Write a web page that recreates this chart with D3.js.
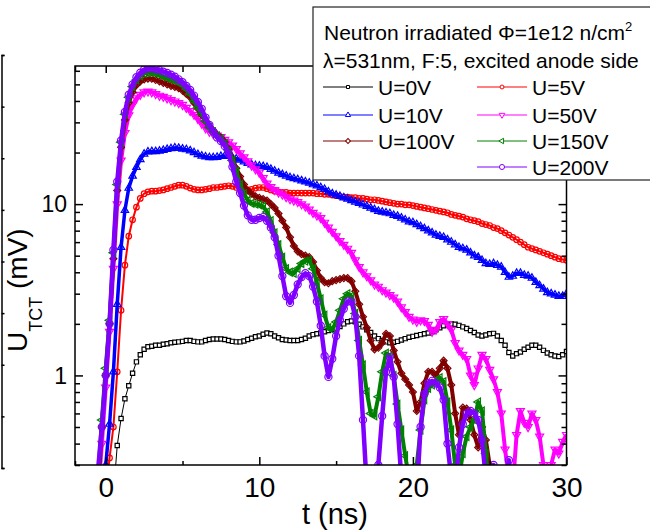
<!DOCTYPE html>
<html>
<head>
<meta charset="utf-8">
<script src="https://cdn.jsdelivr.net/npm/d3@7"></script>
<style>
body { margin: 0; background: #fff; }
svg { display: block; }
text { font-family: "Liberation Sans", Arial, sans-serif; fill: #000; }
</style>
</head>
<body>
<svg id="chart" width="650" height="531"></svg>
<script>
// sampling of the traces (ns)
const tStart = -1;
const tStep = 0.25;

// values in mV, one row per ns (t = -1 ... 30)
const u0V = [
	0.15, 0.15, 0.15, 0.15,
	0.15, 0.15, 0.2, 0.39,
	0.56, 0.73, 0.87, 1.03,
	1.2, 1.32, 1.42, 1.47,
	1.48, 1.5, 1.5, 1.52,
	1.53, 1.55, 1.56, 1.57,
	1.58, 1.6, 1.6, 1.58,
	1.57, 1.57, 1.6, 1.62,
	1.63, 1.63, 1.63, 1.62,
	1.6, 1.58, 1.57, 1.57,
	1.59, 1.62, 1.65, 1.68,
	1.7, 1.74, 1.77, 1.75,
	1.7, 1.66, 1.62, 1.61,
	1.6, 1.6, 1.6, 1.62,
	1.65, 1.7, 1.73, 1.75,
	1.77, 1.8, 1.83, 1.86,
	1.88, 1.93, 2.0, 2.06,
	2.08, 2.06, 1.99, 1.92,
	1.85, 1.78, 1.7, 1.64,
	1.6, 1.57, 1.55, 1.56,
	1.58, 1.61, 1.64, 1.67,
	1.69, 1.71, 1.73, 1.75,
	1.77, 1.8, 1.85, 1.9,
	1.95, 1.98, 2.0, 1.99,
	1.96, 1.92, 1.88, 1.83,
	1.78, 1.72, 1.7, 1.72,
	1.75, 1.76, 1.7, 1.6,
	1.5, 1.36, 1.3, 1.34,
	1.37, 1.42, 1.46, 1.5,
	1.5, 1.46, 1.4, 1.35,
	1.32, 1.3, 1.29, 1.32,
	1.38
];
const u5V = [
	0.15, 0.15, 0.15, 0.15,
	0.2, 0.33, 0.5, 1.05,
	2.4, 4.4, 6.5, 8.1,
	9.6, 10.8, 11.5, 11.8,
	11.9, 11.9, 12.0, 12.1,
	12.3, 12.5, 12.7, 12.9,
	12.9, 12.7, 12.4, 12.2,
	12.1, 12.1, 12.2, 12.3,
	12.5, 12.5, 12.6, 12.7,
	12.8, 12.7, 12.5, 12.3,
	12.1, 12.1, 12.2, 12.4,
	12.5, 12.5, 12.3, 12.1,
	11.9, 11.8, 11.7, 11.7,
	11.6, 11.6, 11.6, 11.6,
	11.6, 11.6, 11.6, 11.5,
	11.5, 11.4, 11.4, 11.3,
	11.2, 11.1, 11.0, 11.0,
	10.9, 10.9, 10.8, 10.8,
	10.7, 10.6, 10.6, 10.5,
	10.4, 10.3, 10.2, 10.1,
	10.0, 10.0, 9.9, 9.9,
	9.8, 9.7, 9.6, 9.5,
	9.4, 9.3, 9.2, 9.1,
	9.0, 8.9, 8.7, 8.6,
	8.5, 8.4, 8.2, 8.1,
	8.0, 7.9, 7.7, 7.6,
	7.5, 7.3, 7.2, 7.0,
	6.8, 6.6, 6.4, 6.2,
	6.0, 5.8, 5.6, 5.5,
	5.4, 5.3, 5.2, 5.1,
	5.0, 4.9, 4.8, 4.75,
	4.7
];
const u10V = [
	0.15, 0.15, 0.15, 0.18,
	0.3, 0.52, 1.05, 2.6,
	5.6, 9.2, 12.4, 14.6,
	16.4, 18.2, 19.6, 20.2,
	20.3, 20.3, 20.4, 20.6,
	20.9, 21.1, 21.3, 21.2,
	21.0, 20.8, 20.5, 20.0,
	19.5, 19.1, 18.9, 18.7,
	18.7, 18.8, 19.0, 19.1,
	19.0, 18.7, 18.4, 18.1,
	17.7, 17.3, 17.0, 16.8,
	16.7, 16.6, 16.4, 16.0,
	15.6, 15.2, 14.9, 14.6,
	14.3, 14.1, 13.9, 13.7,
	13.5, 13.3, 13.0, 12.8,
	12.5, 12.2, 11.8, 11.5,
	11.3, 11.1, 10.9, 10.7,
	10.5, 10.3, 10.1, 9.9,
	9.7, 9.5, 9.3, 9.1,
	9.0, 8.9, 8.8, 8.6,
	8.5, 8.3, 8.1, 7.9,
	7.8, 7.6, 7.4, 7.2,
	7.0, 6.8, 6.6, 6.5,
	6.4, 6.2, 6.0, 5.8,
	5.6, 5.5, 5.4, 5.2,
	5.0, 4.9, 4.7, 4.5,
	4.45, 4.5, 4.4, 4.3,
	4.0, 3.75, 3.8, 3.95,
	3.95, 3.85, 3.8, 3.7,
	3.5, 3.35, 3.2, 3.05,
	3.0, 2.95, 2.9, 2.9,
	3.0
];
const u50V = [
	0.15, 0.15, 0.2, 0.4,
	0.85, 1.8, 4.2, 10,
	18, 26, 33, 38,
	41.5, 43.5, 45, 45.5,
	45, 44, 43, 42.4,
	41.5, 40.5, 39.8, 39,
	38, 36.5, 35, 33.3,
	31.5, 29.5, 27.8, 26.5,
	25.7, 25.2, 24.7, 23.8,
	23, 22, 21, 19.8,
	18.8, 17.8, 16.8, 16,
	15.3, 14.2, 13.2, 12.6,
	12.1, 11.7, 11.4, 11.0,
	10.7, 10.5, 10.3, 10.0,
	9.7, 9.3, 8.9, 8.6,
	8.3, 7.8, 7.3, 6.9,
	6.5, 6.1, 5.8, 5.5,
	5.2, 4.7, 4.3, 4.0,
	3.8, 3.6, 3.4, 3.3,
	3.15, 3.05, 2.95, 2.85,
	2.7, 2.5, 2.35, 2.2,
	2.12, 2.06, 2.1, 2.08,
	1.98, 1.8, 1.85, 2.05,
	2.14, 2.0, 1.85, 1.55,
	1.4, 1.32, 1.25, 1.0,
	0.88, 1.1, 1.32, 1.25,
	1.08, 0.95, 0.8, 0.6,
	0.37, 0.25, 0.22, 0.45,
	0.62, 0.53, 0.5, 0.6,
	0.55, 0.44, 0.3, 0.22,
	0.3, 0.37, 0.35, 0.41,
	0.45
];
const u100V = [
	0.15, 0.15, 0.22, 0.5,
	1.0, 2.0, 4.8, 12,
	21.5, 31, 39, 45,
	49.5, 52, 53.5, 54,
	54, 53, 52, 51,
	50, 49, 48.3, 47.5,
	46, 44, 42, 39,
	36, 33, 30.5, 28.5,
	27, 25.5, 24.5, 23,
	21, 18.5, 16.2, 14.5,
	13, 12, 11.5, 11.1,
	10.9, 10.7, 10.5, 10.0,
	9.5, 8.8, 8.0, 7.3,
	6.4, 5.7, 5.3, 5.1,
	5.0, 4.9, 4.6, 4.1,
	3.7, 3.5, 3.45, 3.55,
	3.6, 3.65, 3.7, 3.7,
	3.55, 3.1, 2.6, 2.2,
	1.9, 1.6, 1.42, 1.45,
	1.55, 1.75, 1.7, 1.4,
	1.2, 1.03, 0.95, 0.88,
	0.8, 0.62, 0.7, 0.9,
	1.05, 1.05, 1.0, 1.1,
	1.22, 1.1, 0.88, 0.6,
	0.45, 0.65, 0.64, 0.55,
	0.45, 0.38, 0.5, 0.42,
	0.3, 0.2, 0.15, 0.15,
	0.15, 0.15, 0.15, 0.15,
	0.15, 0.15, 0.15, 0.15,
	0.15, 0.15, 0.15, 0.15,
	0.15, 0.15, 0.15, 0.15,
	0.15
];
const u150V = [
	0.15, 0.15, 0.25, 0.55,
	1.1, 2.1, 5.2, 13,
	23, 33.5, 42, 48.5,
	53, 56, 58, 58.5,
	58.5, 58, 57, 55.5,
	54.5, 53.5, 52.5, 51.5,
	49.5, 47, 44, 40,
	36.5, 33.5, 30.5, 28,
	26.5, 25, 24, 22.5,
	20.5, 18, 15.5, 13,
	11.5, 10.5, 10.1, 10.0,
	9.9, 9.7, 9.0, 8.0,
	6.8, 5.8, 4.9, 4.2,
	4.0, 3.95, 4.2, 4.5,
	4.65, 4.7, 4.2, 3.45,
	2.8, 2.25, 1.9, 1.85,
	2.05, 2.4, 2.8, 3.0,
	2.9, 2.3, 1.6, 1.15,
	0.8, 0.6, 0.58, 0.75,
	1.05, 1.35, 1.3, 1.0,
	0.68, 0.48, 0.34, 0.25,
	0.22, 0.3, 0.48, 0.72,
	0.84, 0.88, 0.92, 0.97,
	0.92, 0.7, 0.48, 0.3,
	0.25, 0.35, 0.44, 0.5,
	0.55, 0.7, 0.62, 0.35,
	0.2, 0.15, 0.15, 0.15,
	0.15, 0.15, 0.15, 0.15,
	0.15, 0.15, 0.15, 0.15,
	0.15, 0.15, 0.15, 0.15,
	0.15, 0.15, 0.15, 0.15,
	0.15
];
const u200V = [
	0.15, 0.15, 0.28, 0.5,
	1.0, 2.0, 5.4, 13.5,
	23.5, 34.5, 43.5, 50,
	55, 58.5, 61, 62,
	62, 61.5, 60.5, 59.3,
	58.3, 57, 55.5, 53.5,
	51.5, 49, 46.4, 43,
	39.5, 36, 32, 29,
	26.5, 24.5, 23.3, 21.8,
	19.8, 16.5, 13.5, 11.6,
	9.8, 8.6, 8.1, 8.1,
	8.3, 8.4, 8.0, 7.3,
	6.4, 5.0, 3.8, 2.9,
	2.65, 2.95, 3.4, 3.75,
	3.95, 3.8, 3.3, 2.7,
	1.95, 1.3, 0.98, 1.25,
	1.7, 2.1, 2.45, 2.7,
	2.7, 2.2, 1.3, 0.55,
	0.22, 0.15, 0.2, 0.3,
	0.58, 1.05, 1.28, 0.98,
	0.52, 0.25, 0.15, 0.12,
	0.15, 0.2, 0.5, 0.78,
	0.9, 0.93, 0.9, 0.85,
	0.72, 0.4, 0.25, 0.22,
	0.38, 0.52, 0.6, 0.62,
	0.6, 0.55, 0.42, 0.25,
	0.2, 0.3, 0.22, 0.15,
	0.15, 0.32, 0.2, 0.15,
	0.15, 0.15, 0.15, 0.15,
	0.15, 0.15, 0.15, 0.15,
	0.15, 0.15, 0.15, 0.15,
	0.15
];

const seriesLabels = ["U=0V", "U=5V", "U=10V", "U=50V", "U=100V", "U=150V", "U=200V"];
const seriesValues = [u0V, u5V, u10V, u50V, u100V, u150V, u200V];

const xTicks = [0, 10, 20, 30];
const xMinorTicks = [-2, 5, 15, 25];
const yTicks = [1, 10];
const yMinorTicks = [0.3, 0.4, 0.5, 0.6, 0.7, 0.8, 0.9, 2, 3, 4, 5, 6, 7, 8, 9, 20, 30, 40, 50, 60];

// look of each trace (Origin style hollow symbols, dense traces look like bands)
const styles = [
	{ color: "#000000", type: d3.symbolSquare, size: 18, rotate: 0, lw: 1, fill: "#fff" },
	{ color: "#ff0000", type: d3.symbolCircle, size: 24, rotate: 0, lw: 2, fill: "none" },
	{ color: "#0000ff", type: d3.symbolTriangle, size: 24, rotate: 0, lw: 3.5, fill: "none" },
	{ color: "#ff00ff", type: d3.symbolTriangle, size: 28, rotate: 180, lw: 4, fill: "none" },
	{ color: "#800000", type: d3.symbolSquare, size: 24, rotate: 45, lw: 4, fill: "none" },
	{ color: "#008000", type: d3.symbolTriangle, size: 26, rotate: -90, lw: 4, fill: "none" },
	{ color: "#8000ff", type: d3.symbolCircle, size: 40, rotate: 0, lw: 4.5, fill: "none" }
];

const margin = { top: 66, right: 83.5, bottom: 66, left: 75 },
	width = 650 - margin.left - margin.right,
	height = 531 - margin.top - margin.bottom;

const svg = d3.select("#chart");

const x = d3.scaleLinear().domain([-2, 30]).range([0, width]);
const y = d3.scaleLog().domain([0.3, 64]).range([height, 0]);

const g = svg.append("g").attr("transform", "translate(" + margin.left + "," + margin.top + ")");

g.append("clipPath")
	.attr("id", "clip")
	.append("rect")
	.attr("width", width)
	.attr("height", height);

const plot = g.append("g").attr("clip-path", "url(#clip)");

const line = d3
	.line()
	.x((d) => x(d[0]))
	.y((d) => y(d[1]));

seriesValues.forEach((values, k) => {
	const st = styles[k];
	const pts = values.map((v, i) => [tStart + i * tStep, v]);
	plot.append("path")
		.datum(pts)
		.attr("fill", "none")
		.attr("stroke", st.color)
		.attr("stroke-width", st.lw)
		.attr("stroke-linejoin", "round")
		.attr("d", line);
	const sym = d3.symbol().type(st.type).size(st.size);
	plot.append("g")
		.selectAll("path")
		.data(pts)
		.join("path")
		.attr("transform", (d) => "translate(" + x(d[0]) + "," + y(d[1]) + ") rotate(" + st.rotate + ")")
		.attr("d", sym)
		.attr("fill", st.fill)
		.attr("stroke", st.color)
		.attr("stroke-width", 1.2);
});

// axes, all ticks pointing inwards
const styleAxis = (sel, size) => {
	sel.select(".domain").remove();
	sel.selectAll("line").attr("stroke", "#000").attr("stroke-width", 1.5);
	sel.selectAll("text").style("font-family", '"Liberation Sans", Arial, sans-serif').style("font-size", size + "px").attr("fill", "#000");
};

g.append("g")
	.attr("transform", "translate(0," + height + ")")
	.call(d3.axisBottom(x).tickValues(xTicks).tickSize(-8).tickPadding(12).tickFormat(d3.format("d")))
	.call((s) => styleAxis(s, 28));
g.append("g")
	.attr("transform", "translate(0," + height + ")")
	.call(d3.axisBottom(x).tickValues(xMinorTicks).tickSize(-4).tickFormat(""))
	.call((s) => styleAxis(s, 10));
g.append("g")
	.call(d3.axisTop(x).tickValues(xTicks).tickSize(-7).tickFormat(""))
	.call((s) => styleAxis(s, 10));
g.append("g")
	.call(d3.axisTop(x).tickValues(xMinorTicks).tickSize(-6).tickFormat(""))
	.call((s) => styleAxis(s, 10));

g.append("g")
	.call(d3.axisLeft(y).tickValues(yTicks).tickSize(-8).tickPadding(8).tickFormat(d3.format("d")))
	.call((s) => styleAxis(s, 23))
	.call((s) => s.selectAll("text").attr("dy", "0.34em"));
g.append("g")
	.call(d3.axisLeft(y).tickValues(yMinorTicks).tickSize(-5).tickFormat(""))
	.call((s) => styleAxis(s, 10));
g.append("g")
	.attr("transform", "translate(" + width + ",0)")
	.call(d3.axisRight(y).tickValues(yTicks).tickSize(-8).tickFormat(""))
	.call((s) => styleAxis(s, 10));
g.append("g")
	.attr("transform", "translate(" + width + ",0)")
	.call(d3.axisRight(y).tickValues(yMinorTicks).tickSize(-5).tickFormat(""))
	.call((s) => styleAxis(s, 10));

g.append("rect")
	.attr("width", width)
	.attr("height", height)
	.attr("fill", "none")
	.attr("stroke", "#000")
	.attr("stroke-width", 1.5);

// axis titles
g.append("text")
	.attr("x", 260)
	.attr("y", height + 59)
	.attr("text-anchor", "middle")
	.style("font-size", "29px")
	.text("t (ns)");

const yTitle = svg.append("text")
	.attr("transform", "translate(27,352) rotate(-90)")
	.attr("text-anchor", "start")
	.style("font-size", "28px");
yTitle.append("tspan").text("U");
yTitle.append("tspan").attr("dy", 15).style("font-size", "18px").text("TCT");
yTitle.append("tspan").attr("dy", -15).text(" (mV)");

// legend
const legend = svg.append("g").attr("transform", "translate(313,7)");
legend.append("rect")
	.attr("width", 345)
	.attr("height", 173)
	.attr("fill", "#fff")
	.attr("stroke", "#222")
	.attr("stroke-width", 1.2);

const head1 = legend.append("text").attr("x", 11).attr("y", 33).style("font-size", "21px");
head1.append("tspan").text("Neutron irradiated \u03a6=1e12 n/cm");
head1.append("tspan").attr("dy", -9).style("font-size", "13px").text("2");
legend.append("text").attr("x", 10).attr("y", 61).style("font-size", "21px").text("\u03bb=531nm, F:5, excited anode side");

const legendPos = [[0, 0], [1, 0], [0, 1], [1, 1], [0, 2], [1, 2], [1, 3]];
const colX = [10, 164];
const rowY = [80, 108, 134, 160];

seriesLabels.forEach((lab, k) => {
	const st = styles[k];
	const gx = colX[legendPos[k][0]];
	const gy = rowY[legendPos[k][1]];
	const item = legend.append("g").attr("transform", "translate(" + gx + "," + gy + ")");
	item.append("line").attr("x1", 0).attr("x2", 50).attr("stroke", st.color).attr("stroke-width", 1);
	item.append("path")
		.attr("transform", "translate(25,0) rotate(" + st.rotate + ")")
		.attr("d", d3.symbol().type(st.type).size(st.size * 0.5)())
		.attr("fill", "#fff")
		.attr("stroke", st.color)
		.attr("stroke-width", 1);
	item.append("text").attr("x", 55).attr("y", 7.5).style("font-size", "21px").text(lab);
});

// edge of the neighbouring panel, cut by the crop
const yGhost = d3.scaleLinear().domain([0, 8]).range([468, 55]);
svg.append("g")
	.attr("transform", "translate(1.5,0)")
	.call(d3.axisRight(yGhost).ticks(8).tickSize(3).tickFormat(""))
	.call((s) => s.selectAll("line,path").attr("stroke", "#000").attr("stroke-width", 1.5));
</script>
</body>
</html>
